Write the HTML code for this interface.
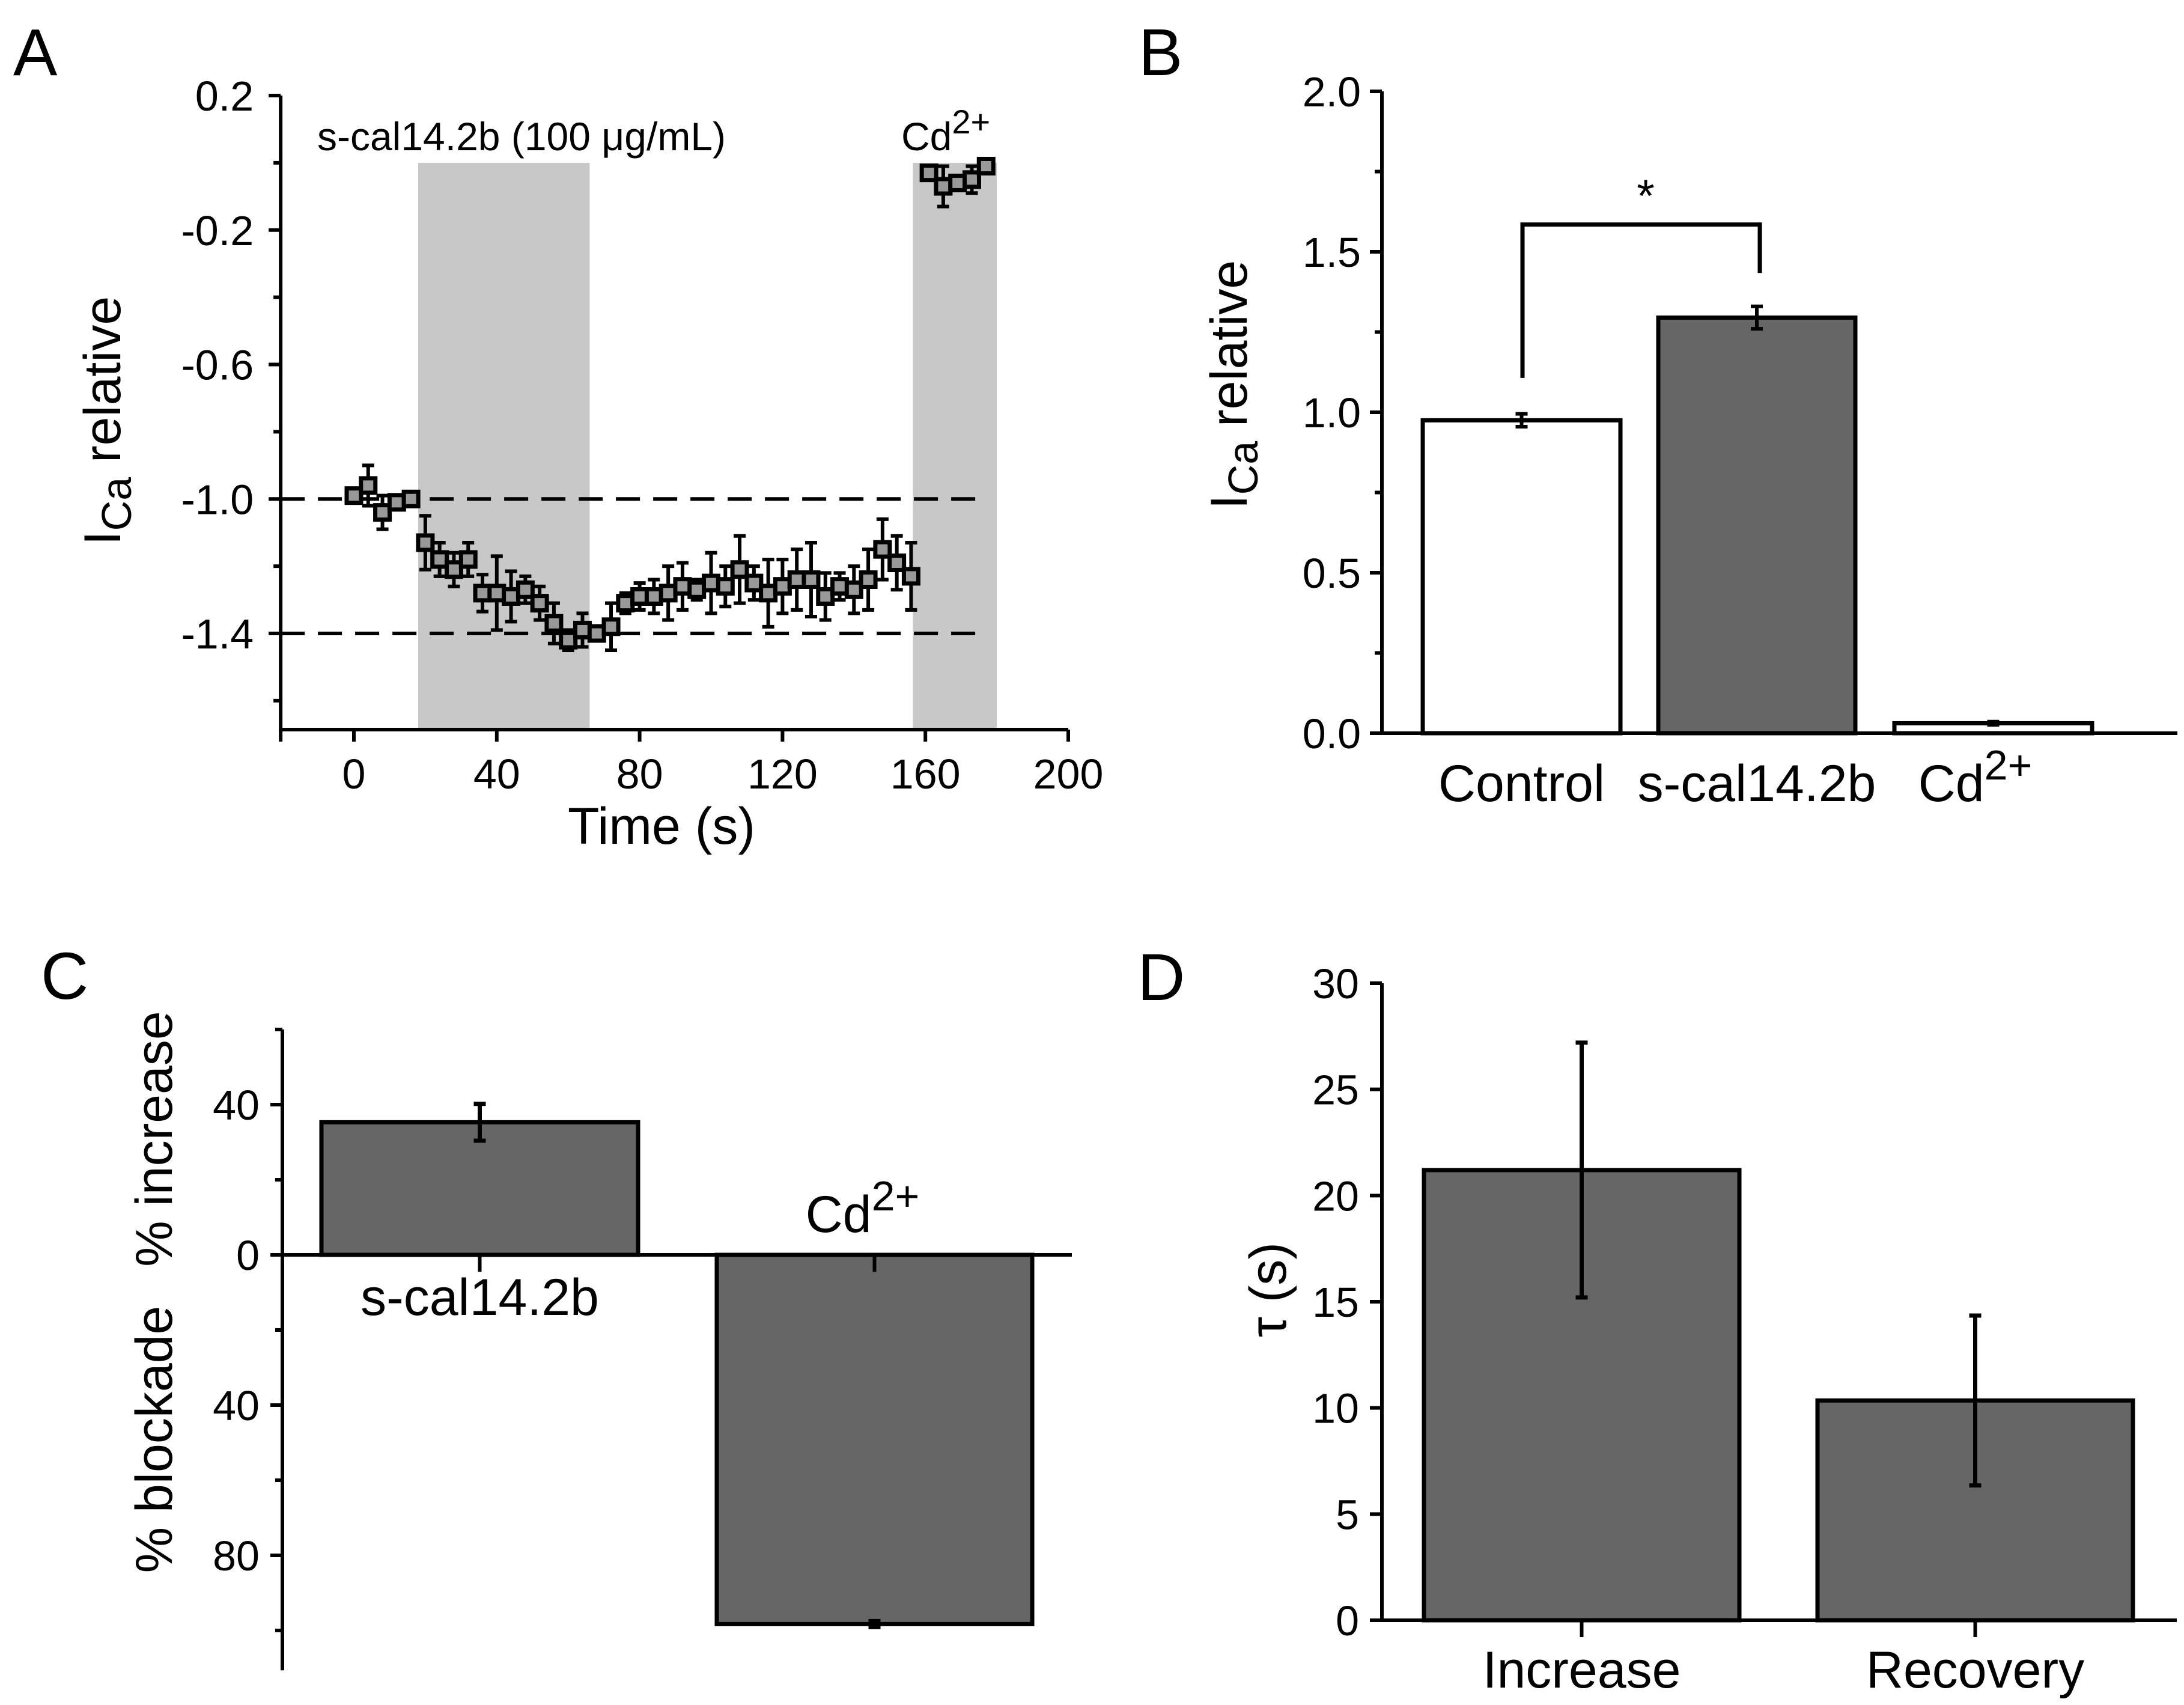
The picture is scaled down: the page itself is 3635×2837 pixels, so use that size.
<!DOCTYPE html>
<html><head><meta charset="utf-8"><style>
html,body{margin:0;padding:0;background:#fff;}
svg{display:block;font-family:"Liberation Sans",Arial,sans-serif;}
</style></head><body>
<svg id="fig" width="3635" height="2837" viewBox="0 0 3635 2837" xmlns="http://www.w3.org/2000/svg">
<g font-size="110" fill="#000">
<text x="22" y="125">A</text>
<text x="1895" y="125">B</text>
<text x="68" y="1662">C</text>
<text x="1893" y="1664">D</text>
</g>
<g id="pa"></g>
<g id="pb"></g>
<g id="pc"></g>
<g id="pd"></g>
</svg>
<script>
// ---- Panel A data ----
const timeA = [0,4,8,12,16,20,24,28,32,36,40,44,48,52,56,60,64,68,72,76,80,84,88,92,96,100,104,108,112,116,120,124,128,132,136,140,144,148,152,156];
const currentA = [-0.99,-0.96,-1.04,-1.01,-1.0,-1.13,-1.18,-1.21,-1.18,-1.28,-1.28,-1.29,-1.27,-1.31,-1.37,-1.42,-1.39,-1.40,-1.38,-1.31,-1.29,-1.29,-1.28,-1.26,-1.27,-1.25,-1.26,-1.21,-1.25,-1.28,-1.26,-1.24,-1.24,-1.29,-1.26,-1.27,-1.24,-1.15,-1.19,-1.23];
const errA = [0.02,0.06,0.05,0.02,0.01,0.08,0.05,0.05,0.05,0.055,0.11,0.075,0.04,0.05,0.06,0.03,0.05,0.02,0.07,0.03,0.04,0.05,0.08,0.07,0.03,0.09,0.06,0.10,0.05,0.10,0.08,0.09,0.11,0.07,0.04,0.07,0.09,0.09,0.08,0.10];
const timeCd = [161,165,169,173,177];
const currentCd = [-0.03,-0.07,-0.06,-0.05,-0.01];
const errCd = [0.02,0.06,0.02,0.04,0.02];
const shadeA = [[18,66],[156.5,180]];
const refLinesA = [-1.0,-1.4];
const yTicksA = [0.2,-0.2,-0.6,-1.0,-1.4];
const yMinorA = [0.0,-0.4,-0.8,-1.2,-1.6];
const xTicksA = [0,40,80,120,160,200];
// ---- Panel B data ----
const catsB = ["Control","s-cal14.2b","Cd"];
const valsB = [0.975,1.295,0.031];
const errB = [0.02,0.035,0.005];
const fillB = ["#fff","#666","#fff"];
const yTicksB = [0.0,0.5,1.0,1.5,2.0];
const yMinorB = [0.25,0.75,1.25,1.75];
// ---- Panel C data ----
const catsC = ["s-cal14.2b","Cd"];
const valsC = [35.3,-98.3];
const errC = [4.9,0.8];
const yTicksC = [40,0,-40,-80];
const yTickLabelsC = ["40","0","40","80"];
const yMinorC = [60,20,-20,-60,-100];
// ---- Panel D data ----
const catsD = ["Increase","Recovery"];
const valsD = [21.2,10.35];
const errD = [6.0,4.0];
const yTicksD = [0,5,10,15,20,25,30];

const NS="http://www.w3.org/2000/svg";
function mk(parent,tag,attrs,text){const e=document.createElementNS(NS,tag);for(const k in attrs)e.setAttribute(k,attrs[k]);if(text!==undefined)e.textContent=text;parent.appendChild(e);return e;}
function lin(d0,d1,r0,r1){return v=>r0+(v-d0)*(r1-r0)/(d1-d0);}
const SW=6, TF=70, LF=86;

// ===== Panel A =====
(function(){
const g=document.getElementById('pa');
const x=lin(0,200,589,1778), y=lin(0.2,-1.4,159,1054);
const y0=y(0.2), yb=y(-1.686), xl=x(-20.5);
shadeA.forEach((s,i)=>{const r=mk(g,'rect',{x:x(s[0]),y:y(0),width:x(s[1])-x(s[0]),height:yb-y(0),fill:'#c8c8c8'});

});
refLinesA.forEach(v=>{const l=mk(g,'line',{x1:xl,x2:1634,y1:y(v),y2:y(v),stroke:'#000','stroke-width':6,'stroke-dasharray':'40 22'});

});
const ax=mk(g,'path',{d:`M${xl},${y0}V${yb}H${x(200)}`,fill:'none',stroke:'#000','stroke-width':SW});


yTicksA.forEach(v=>{mk(g,'line',{x1:xl-20,x2:xl,y1:y(v),y2:y(v),stroke:'#000','stroke-width':SW});
const t=mk(g,'text',{x:xl-45,y:y(v)+25,'text-anchor':'end','font-size':TF},v.toFixed(1));

});
yMinorA.forEach(v=>mk(g,'line',{x1:xl-12,x2:xl,y1:y(v),y2:y(v),stroke:'#000','stroke-width':SW}));
mk(g,'line',{x1:xl,x2:xl,y1:yb,y2:yb+20,stroke:'#000','stroke-width':SW});
xTicksA.forEach(v=>{mk(g,'line',{x1:x(v),x2:x(v),y1:yb,y2:yb+20,stroke:'#000','stroke-width':SW});
const t=mk(g,'text',{x:x(v),y:1312,'text-anchor':'middle','font-size':TF},String(v));

});
const xt=mk(g,'text',{x:1101,y:1404,'text-anchor':'middle','font-size':LF},'Time (s)');


const yt=mk(g,'text',{transform:'translate(200,700) rotate(-90)','text-anchor':'middle','font-size':LF});


mk(yt,'tspan',{},'I');mk(yt,'tspan',{dy:18,'font-size':70},'Ca');mk(yt,'tspan',{dy:-18},' relative');
const a1=mk(g,'text',{x:528,y:250,'font-size':66},'s-cal14.2b (100 μg/mL)');


const a2=mk(g,'text',{x:1500,y:250,'font-size':66});


mk(a2,'tspan',{},'Cd');mk(a2,'tspan',{dy:-28,'font-size':56},'2+');
function series(ts,vs,es,name){
ts.forEach((t,i)=>{const cx=x(t),cy=y(vs[i]);
const e=mk(g,'path',{d:`M${cx},${y(vs[i]+es[i])}V${y(vs[i]-es[i])}M${cx-10},${y(vs[i]+es[i])}h20M${cx-10},${y(vs[i]-es[i])}h20`,stroke:'#000','stroke-width':6,fill:'none'});


const r=mk(g,'rect',{x:cx-12,y:cy-12,width:24,height:24,fill:'#999',stroke:'#000','stroke-width':7});

});
}
series(timeA,currentA,errA,'current');
series(timeCd,currentCd,errCd,'cd');
})();

// ===== Panel B =====
(function(){
const g=document.getElementById('pb');
const y=lin(0,2,1220,152);const xl=2300;
const bx=[[2368,2697],[2760,3088],[3153,3482]];
catsB.forEach((c,i)=>{const top=y(valsB[i]);
const r=mk(g,'rect',{x:bx[i][0],y:top,width:bx[i][1]-bx[i][0],height:y(0)-top,fill:fillB[i],stroke:'#000','stroke-width':7});


const cx=(bx[i][0]+bx[i][1])/2;
const e=mk(g,'path',{d:`M${cx},${y(valsB[i]+errB[i])}V${y(valsB[i]-errB[i])}M${cx-10},${y(valsB[i]+errB[i])}h20M${cx-10},${y(valsB[i]-errB[i])}h20`,stroke:'#000','stroke-width':6,fill:'none'});


const t=mk(g,'text',{x:cx-(c==='Cd'?30:0),y:1333,'text-anchor':'middle','font-size':LF});


mk(t,'tspan',{},c);if(c==='Cd'){mk(t,'tspan',{dy:-36,'font-size':70},'2+');}
});
const ax=mk(g,'path',{d:`M${xl},${y(2)}V${y(0)}H3624`,fill:'none',stroke:'#000','stroke-width':SW});


yTicksB.forEach(v=>{mk(g,'line',{x1:xl-20,x2:xl,y1:y(v),y2:y(v),stroke:'#000','stroke-width':SW});
const t=mk(g,'text',{x:xl-35,y:y(v)+25,'text-anchor':'end','font-size':TF},v.toFixed(1));

});
yMinorB.forEach(v=>mk(g,'line',{x1:xl-12,x2:xl,y1:y(v),y2:y(v),stroke:'#000','stroke-width':SW}));
const br=mk(g,'path',{d:`M2534,${y(1.107)}V${y(1.585)}H2929V${y(1.434)}`,fill:'none',stroke:'#000','stroke-width':7});


const st=mk(g,'text',{x:2739,y:352,'text-anchor':'middle','font-size':76},'*');


const yt=mk(g,'text',{transform:'translate(2075,640) rotate(-90)','text-anchor':'middle','font-size':LF});


mk(yt,'tspan',{},'I');mk(yt,'tspan',{dy:18,'font-size':70},'Ca');mk(yt,'tspan',{dy:-18},' relative');
})();

// ===== Panel C =====
(function(){
const g=document.getElementById('pc');
const y=lin(0,40,2088,1838);const xl=470;
const bx=[[535,1062],[1193,1718]];
catsC.forEach((c,i)=>{const v=valsC[i];const top=Math.min(y(v),y(0)),h=Math.abs(y(v)-y(0));
const r=mk(g,'rect',{x:bx[i][0],y:top,width:bx[i][1]-bx[i][0],height:h,fill:'#666',stroke:'#000','stroke-width':7});


const cx=(bx[i][0]+bx[i][1])/2;
const e=mk(g,'path',{d:`M${cx},${y(v+errC[i])}V${y(v-errC[i])}M${cx-10},${y(v+errC[i])}h20M${cx-10},${y(v-errC[i])}h20`,stroke:'#000','stroke-width':7,fill:'none'});


mk(g,'line',{x1:cx,x2:cx,y1:y(0),y2:y(0)+28,stroke:'#000','stroke-width':SW});
const t=mk(g,'text',{x:cx-(c==='Cd'?20:0),y:c==='Cd'?2050:2188,'text-anchor':'middle','font-size':LF});


mk(t,'tspan',{},c);if(c==='Cd'){mk(t,'tspan',{dy:-36,'font-size':70},'2+');}
});
const ax=mk(g,'path',{d:`M${xl},${y(60)}V${y(-110.6)}M${xl},${y(0)}H1784`,fill:'none',stroke:'#000','stroke-width':SW});


yTicksC.forEach((v,i)=>{mk(g,'line',{x1:xl-20,x2:xl,y1:y(v),y2:y(v),stroke:'#000','stroke-width':SW});
const t=mk(g,'text',{x:xl-38,y:y(v)+25,'text-anchor':'end','font-size':TF},yTickLabelsC[i]);

});
yMinorC.forEach(v=>mk(g,'line',{x1:xl-12,x2:xl,y1:y(v),y2:y(v),stroke:'#000','stroke-width':SW}));
const t1=mk(g,'text',{transform:'translate(286,1895) rotate(-90)','text-anchor':'middle','font-size':LF},'% increase');


const t2=mk(g,'text',{transform:'translate(286,2395) rotate(-90)','text-anchor':'middle','font-size':LF},'% blockade');


})();

// ===== Panel D =====
(function(){
const g=document.getElementById('pd');
const y=lin(0,30,2696,1636);const xl=2300;
const bx=[[2370,2895],[3025,3550]];
catsD.forEach((c,i)=>{const v=valsD[i];
const r=mk(g,'rect',{x:bx[i][0],y:y(v),width:bx[i][1]-bx[i][0],height:y(0)-y(v),fill:'#666',stroke:'#000','stroke-width':7});


const cx=(bx[i][0]+bx[i][1])/2;
const e=mk(g,'path',{d:`M${cx},${y(v+errD[i])}V${y(v-errD[i])}M${cx-10},${y(v+errD[i])}h20M${cx-10},${y(v-errD[i])}h20`,stroke:'#000','stroke-width':7,fill:'none'});


mk(g,'line',{x1:cx,x2:cx,y1:y(0),y2:y(0)+28,stroke:'#000','stroke-width':SW});
const t=mk(g,'text',{x:cx,y:2808,'text-anchor':'middle','font-size':LF},c);


});
const ax=mk(g,'path',{d:`M${xl},${y(30)}V${y(0)}H3623`,fill:'none',stroke:'#000','stroke-width':SW});


yTicksD.forEach(v=>{mk(g,'line',{x1:xl-20,x2:xl,y1:y(v),y2:y(v),stroke:'#000','stroke-width':SW});
const t=mk(g,'text',{x:xl-38,y:y(v)+25,'text-anchor':'end','font-size':TF},String(v));

});
const yt=mk(g,'text',{transform:'translate(2140,2146) rotate(-90)','text-anchor':'middle','font-size':LF},'τ (s)');


})();
</script>
</body></html>
